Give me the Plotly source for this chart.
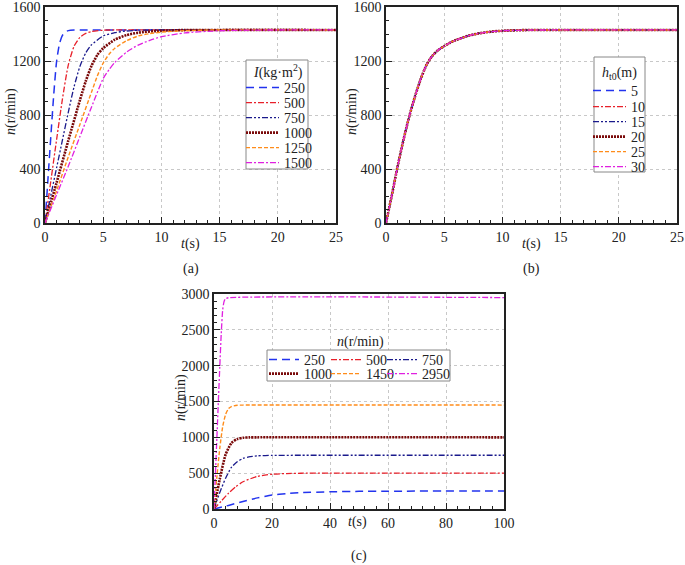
import plotly.graph_objects as go

# ---------------- data ----------------
# (a) inertia I (kg·m²)
a_labels = ["250", "500", "750", "1000", "1250", "1500"]
a_t = [
    [0, 0.25, 0.5, 0.75, 1.0, 1.25, 1.5, 1.75, 2, 2.5, 3, 25],
    [0, 0.5, 1, 1.5, 2, 2.5, 3, 3.5, 4, 5, 6, 25],
    [0, 0.5, 1, 1.5, 2, 2.5, 3, 3.5, 4, 5, 6, 7, 8, 10, 25],
    [0, 1, 2, 3, 3.5, 4, 4.5, 5, 6, 7, 8, 10, 12, 25],
    [0, 1, 2, 3, 4, 4.5, 5, 5.5, 6, 7, 8, 9, 10, 12, 15, 25],
    [0, 1, 2, 3, 4, 5, 5.5, 6, 7, 8, 9, 10, 12, 15, 18, 25],
]
a_n = [
    [0, 320, 640, 950, 1200, 1330, 1390, 1415, 1425, 1430, 1430, 1430],
    [0, 310, 620, 920, 1170, 1310, 1375, 1405, 1418, 1428, 1430, 1430],
    [0, 205, 410, 615, 820, 1010, 1160, 1260, 1320, 1385, 1410, 1422, 1428, 1430, 1430],
    [0, 300, 610, 910, 1050, 1165, 1245, 1295, 1358, 1392, 1410, 1424, 1429, 1430],
    [0, 240, 490, 730, 970, 1090, 1185, 1250, 1295, 1350, 1385, 1403, 1414, 1425, 1430, 1430],
    [0, 210, 420, 640, 860, 1070, 1135, 1190, 1265, 1318, 1353, 1380, 1408, 1424, 1429, 1430],
]

# (b) h_t0 (m) — all curves coincide
b_labels = ["5", "10", "15", "20", "25", "30"]
b_t = [0, 0.5, 1, 1.5, 2, 2.5, 3, 3.5, 4, 4.5, 5, 5.5, 6, 7, 8, 9, 10, 12, 15, 25]
b_n = [0, 205, 420, 615, 790, 940, 1070, 1175, 1240, 1282, 1310, 1335, 1355, 1385, 1405, 1417, 1424, 1429, 1430, 1430]

# (c) rated speed n (r/min)
c_labels = ["250", "500", "750", "1000", "1450", "2950"]
c_t = [
    [0, 5, 10, 15, 20, 25, 30, 40, 50, 60, 100],
    [0, 2.5, 5, 7.5, 10, 15, 20, 25, 30, 40, 100],
    [0, 2, 4, 6, 8, 10, 12, 15, 20, 30, 100],
    [0, 2, 4, 6, 8, 10, 12, 15, 100],
    [0, 1, 2, 3, 4, 5, 6, 8, 10, 100],
    [0, 1, 2, 2.5, 3, 3.5, 4, 5, 100],
]
c_n = [
    [0, 50, 105, 155, 195, 215, 228, 240, 246, 249, 250],
    [0, 110, 220, 310, 380, 455, 485, 495, 499, 500, 500],
    [0, 230, 430, 580, 660, 705, 728, 742, 748, 750, 750],
    [0, 420, 760, 920, 975, 993, 999, 1000, 1000],
    [0, 450, 850, 1150, 1320, 1400, 1430, 1447, 1450, 1450],
    [0, 1000, 1990, 2450, 2780, 2900, 2935, 2948, 2950],
]

# ---------------- styles ----------------
colors = ["#2233ee", "#e8202a", "#1a1a8c", "#7a0a0a", "#ff8c1a", "#e020e0"]
dashes = ["8px,5px", "6px,2px,2px,2px", "6px,2px,2px,2px,2px,2px", "2px,1px", "4px,2px", "6px,2px,2px,2px"]
widths = [1.5, 1.3, 1.3, 2.6, 1.4, 1.3]

W, H = 685, 565
FONT = "Liberation Serif"
FS = 14

def px(v):
    return v / W

def py(v):
    return 1 - v / H

# legend entry positions (pixel centres of rows, left of entry)
a_leg_x, a_leg_rows = 241, [87, 102, 117, 132, 147, 162]
b_leg_x, b_leg_rows = 588, [90, 106, 121, 136, 151, 166]
c_leg_pos = [(264, 359), (326, 359), (382, 359), (264, 373), (326, 373), (382, 373)]

fig = go.Figure()
legends = {}
leg_n = [0]

def new_legend(x, yc, iw):
    leg_n[0] += 1
    name = "legend" if leg_n[0] == 1 else "legend%d" % leg_n[0]
    legends[name] = dict(x=px(x), y=py(yc - 15), xanchor="left", yanchor="top",
                         bgcolor="rgba(0,0,0,0)", borderwidth=0, itemwidth=iw,
                         font=dict(family=FONT, size=FS, color="#222"))
    return name

def line(i):
    return dict(color=colors[i], dash=dashes[i], width=widths[i], shape="spline", smoothing=0.6)

for i, lab in enumerate(a_labels):
    fig.add_trace(go.Scatter(x=a_t[i], y=a_n[i], mode="lines", name=lab, line=line(i),
                             xaxis="x", yaxis="y", legend=new_legend(a_leg_x, a_leg_rows[i], 33)))
for i, lab in enumerate(b_labels):
    fig.add_trace(go.Scatter(x=b_t, y=b_n, mode="lines", name=lab, line=line(i),
                             xaxis="x2", yaxis="y2", legend=new_legend(b_leg_x, b_leg_rows[i], 33)))
for i, lab in enumerate(c_labels):
    fig.add_trace(go.Scatter(x=c_t[i], y=c_n[i], mode="lines", name=lab, line=line(i),
                             xaxis="x3", yaxis="y3", legend=new_legend(c_leg_pos[i][0], c_leg_pos[i][1], 30)))

axis_common = dict(showline=True, linecolor="#222", linewidth=1.5, mirror=True,
                   ticks="inside", ticklen=6, tickwidth=1.2, tickcolor="#222",
                   showgrid=True, gridcolor="#c8c8c8", griddash="dot", gridwidth=1,
                   zeroline=False, ticklabeloverflow="allow",
                   tickfont=dict(family=FONT, size=FS, color="#222"))

def ax(dom, anchor, rng, dt, mdt):
    d = dict(axis_common)
    d.update(domain=dom, anchor=anchor, range=rng, dtick=dt, tick0=0,
             minor=dict(dtick=mdt, ticks="inside", ticklen=3, tickcolor="#222", showgrid=False))
    return d

def box(x0, y0, x1, y1):
    return dict(type="rect", xref="paper", yref="paper", x0=px(x0), x1=px(x1), y0=py(y1), y1=py(y0),
                fillcolor="white", line=dict(color="#888", width=1), layer="above")

ya_dom = [py(223), py(7)]
fig.update_layout(
    width=W, height=H, margin=dict(l=0, r=0, t=0, b=0, autoexpand=False),
    paper_bgcolor="white", plot_bgcolor="white",
    font=dict(family=FONT, size=FS, color="#222"),
    xaxis=ax([px(45), px(336)], "y", [0, 25], 5, 1),
    yaxis=ax(ya_dom, "x", [0, 1600], 400, 100),
    xaxis2=ax([px(386), px(677)], "y2", [0, 25], 5, 1),
    yaxis2=ax(ya_dom, "x2", [0, 1600], 400, 100),
    xaxis3=ax([px(214), px(504)], "y3", [0, 100], 20, 4),
    yaxis3=ax([py(509), py(294)], "x3", [0, 3000], 500, 100),
    showlegend=True,
    shapes=[box(246, 60, 308, 169), box(594, 57, 645, 172), box(267, 350, 450, 381)],
    **legends,
)

ann = []
def add_ann(text, x, y, angle=0, size=FS):
    ann.append(dict(text=text, x=px(x), y=py(y), xref="paper", yref="paper",
                    showarrow=False, textangle=angle, xanchor="center", yanchor="middle",
                    font=dict(family=FONT, size=size, color="#222")))

add_ann("<i>t</i>(s)", 190, 244)
add_ann("<i>t</i>(s)", 531, 244)
add_ann("<i>t</i>(s)", 357, 522)
add_ann("<i>n</i>(r/min)", 11, 112, -90)
add_ann("<i>n</i>(r/min)", 352, 112, -90)
add_ann("<i>n</i>(r/min)", 181, 398, -90)
add_ann("(a)", 191, 269)
add_ann("(b)", 531, 269)
add_ann("(c)", 359, 556)
add_ann("<i>n</i>(r/min)", 360, 342)
add_ann("<i>I</i>(kg·m<sup>2</sup>)", 278, 71)
add_ann("<i>h</i><sub>t0</sub>(m)", 619, 73)
fig.update_layout(annotations=ann)

fig.write_html("out.html", config={"displayModeBar": False},
               post_script="document.body.style.margin='0';document.body.style.overflow='hidden';")
